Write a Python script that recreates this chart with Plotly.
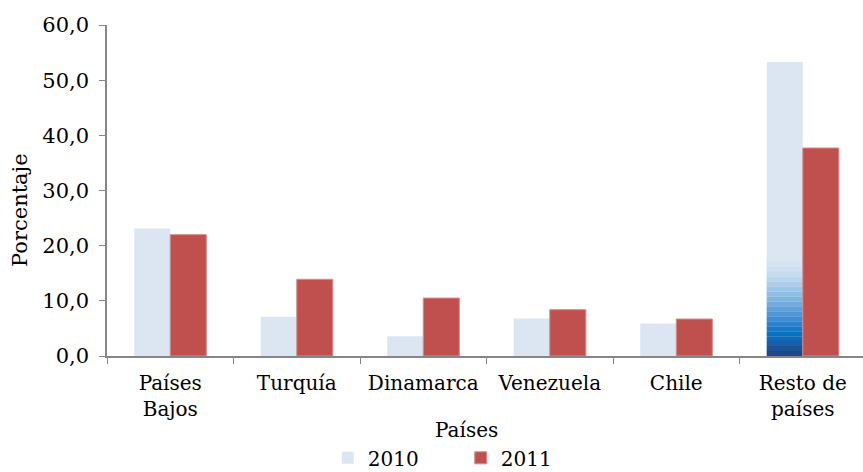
import plotly.graph_objects as go

PAISES = ["Países<br>Bajos", "Turquía", "Dinamarca", "Venezuela", "Chile", "Resto de<br>países"]
V2010 = [23.1, 7.1, 3.6, 6.8, 5.9, 53.3]
V2011 = [22.0, 13.9, 10.5, 8.4, 6.7, 37.7]

# franja con degradado al pie de la barra "Resto de países" 2010
DEGRADADO_ALTO = 18.0
DEGRADADO_COLORES = ["#1b4886", "#1b5296", "#1a5ea8", "#0f69b9", "#0a70c2", "#1a78c8",
                     "#2d82cd", "#3f8cd2", "#5097d6", "#60a1da", "#70abde", "#80b4e1",
                     "#8fbde5", "#9dc5e8", "#abcdeb", "#b8d5ee", "#c4dbf0", "#cee0f1",
                     "#d6e3f2", "#dce6f2"]

FUENTE = "DejaVu Serif"

fig = go.Figure()
fig.add_trace(go.Bar(
    x=PAISES, y=V2010, name="2010", offsetgroup="a",
    marker=dict(color="#dce6f2", line=dict(width=0)),
))

n = len(DEGRADADO_COLORES)
paso = DEGRADADO_ALTO / n
for i, c in enumerate(DEGRADADO_COLORES):
    fig.add_trace(go.Bar(
        x=[PAISES[-1]], y=[paso], base=[i * paso], offsetgroup="a",
        marker=dict(color=c, line=dict(width=0)), showlegend=False, hoverinfo="skip",
    ))

fig.add_trace(go.Bar(
    x=PAISES, y=V2011, name="2011", offsetgroup="b",
    marker=dict(color="#c0504d", line=dict(color="#d88a88", width=1)),
))

fig.update_layout(
    width=863, height=472,
    margin=dict(l=107, r=0, t=25, b=116),
    plot_bgcolor="white", paper_bgcolor="white",
    barmode="group", bargap=0.43, bargroupgap=0,
    separators=",.",
    font=dict(family=FUENTE, size=20, color="#000000"),
    showlegend=True,
    legend=dict(orientation="h", x=0.292, xanchor="left",
                yref="container", y=0.03, yanchor="middle",
                font=dict(family=FUENTE, size=20), traceorder="normal",
                entrywidth=88, entrywidthmode="pixels"),
    annotations=[
        dict(text="Países", xref="paper", yref="paper", x=0.476, y=-0.2236,
             xanchor="center", yanchor="middle", showarrow=False,
             font=dict(family=FUENTE, size=20)),
        dict(text="Porcentaje", xref="paper", yref="paper", x=-0.1151, y=0.441,
             xanchor="center", yanchor="middle", showarrow=False, textangle=-90,
             font=dict(family=FUENTE, size=21)),
    ],
)
fig.update_xaxes(
    range=[-0.5, 5.476],
    showline=True, linecolor="#868686", linewidth=1.5, automargin=False,
    ticks="outside", tickson="boundaries", ticklen=6, tickcolor="#868686",
    ticklabelstandoff=8,
    tickfont=dict(family=FUENTE, size=20),
)
fig.update_yaxes(
    range=[0, 60], dtick=10, tickformat=".1f", automargin=False,
    showline=True, linecolor="#868686", linewidth=1.5, showgrid=False, zeroline=False,
    ticks="outside", ticklen=6, tickcolor="#868686",
    ticklabelstandoff=6,
    tickfont=dict(family=FUENTE, size=21),
)

# sin el margen de 8 px del body la figura ocupa toda la ventana
fig.write_html("out.html", config={"displayModeBar": False},
               post_script="document.body.style.margin='0';")
